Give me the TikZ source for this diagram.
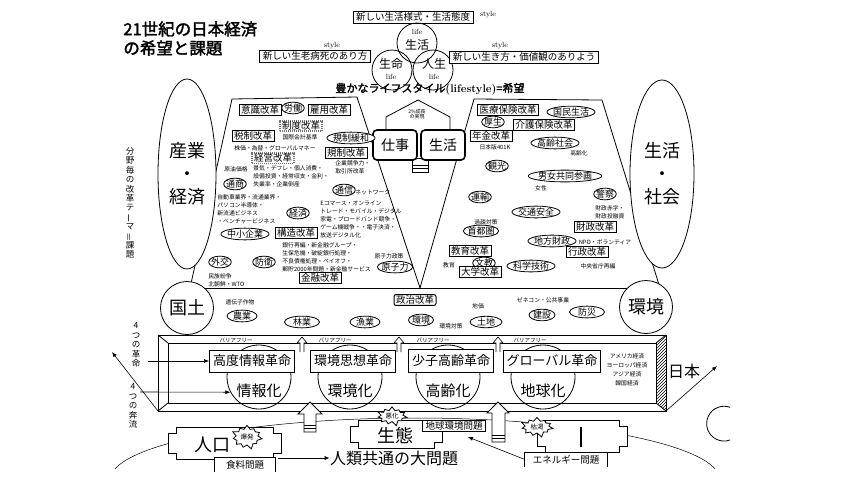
\documentclass[tikz,border=0pt]{standalone}
\usepackage{fontspec}
\newfontfamily\jp[AutoFakeBold=2]{Noto Sans CJK JP}
\usetikzlibrary{positioning, shapes.geometric, shapes.symbols, arrows.meta, patterns}
\newcommand{\fsz}[1]{\fontsize{#1}{#1}\selectfont}
\newcommand{\tabshape}[4]{%
  \draw[fill=white] (#1+8,#2) -- (#3-8,#2) -- (#3-8,#2+6) -- (#3,#2+6) -- (#3,#4-6)
    -- (#3-8,#4-6) -- (#3-8,#4) -- (#1+8,#4) -- (#1+8,#4-6) -- (#1,#4-6)
    -- (#1,#2+6) -- (#1+8,#2+6) -- cycle;}

\begin{document}
\begin{tikzpicture}[x=1pt, y=-1pt, font=\jp, line width=0.8pt,
  sbox/.style={draw, fill=white, inner xsep=3pt, inner ysep=1.5pt, font=\jp\fsz{9.5}},
  stylelbl/.style={inner sep=0pt, font=\rmfamily\fsz{7.5}},
  vennc/.style={draw, circle, minimum size=40pt, inner sep=0pt},
  venntxt/.style={inner sep=0pt, font=\jp\fsz{12}},
  bigell/.style={draw, ellipse, fill=white, inner sep=0pt, font=\jp\fontsize{18}{23}\selectfont, align=center},
  bigcirc/.style={draw, circle, fill=white, minimum size=53pt, inner sep=0pt, font=\jp\fsz{18}},
  kbox/.style={draw, fill=white, line width=1pt, inner xsep=2pt, inner ysep=1pt, font=\jp\fsz{9.5}},
  dotbox/.style={kbox, draw=black!55, densely dotted, line width=1.8pt},
  koval/.style={draw, ellipse, fill=white, inner xsep=-1pt, inner ysep=0pt, font=\jp\fsz{9}},
  smalltxt/.style={inner sep=0pt, font=\jp\fontsize{5.8}{8}\selectfont, align=left},
  workbox/.style={draw, fill=white, rounded corners=4pt, line width=1.6pt, minimum width=44pt, minimum height=30pt, font=\jp\fsz{14}},
  revbox/.style={draw, fill=white, line width=1pt, inner xsep=3.5pt, inner ysep=5pt, font=\jp\fsz{13}},
  kacirc/.style={draw, circle, minimum size=64pt, inner sep=0pt},
  katxt/.style={inner sep=0pt, font=\jp\fsz{15}},
  bfree/.style={inner sep=0pt, font=\jp\fsz{5.5}},
  tatetxt/.style={inner sep=0pt, align=center, font=\jp\fontsize{8.5}{9.4}\selectfont},
  burst/.style={draw, fill=white, starburst, starburst points=11, starburst point height=5pt, inner sep=1pt, font=\jp\fsz{6.5}},
  openbox/.style={inner sep=0pt, minimum height=14pt, font=\jp\fsz{9.5}},
  arr/.style={-{Latex[length=5pt, width=4pt]}, line width=0.6pt}
]
  \useasboundingbox[fill=white] (0,0) rectangle (844,483);

  % title
  \node[anchor=west, inner sep=0pt, font=\jp\bfseries\fsz{16.5}] (title1) at (123,29) {21世紀の日本経済};
  \node[anchor=west, inner sep=0pt, font=\jp\bfseries\fsz{16.5}] (title2) at (123,48) {の希望と課題};

  % big loop at the bottom
  \begin{scope}
    \clip (0,0) rectangle (844,468);
    \draw[line width=0.5pt] (415,480) ellipse [x radius=305, y radius=62];
  \end{scope}

  % the two trapezoids
  \draw (190,288) -- (232,99) -- (357,97) -- (420,288);
  \draw (420,288) -- (474,99) -- (602,100) -- (660,288);
  \draw (190,288) -- (660,288);

  % house arrow
  \draw[fill=white] (412,158) rectangle (428,172);
  \draw (412,165) -- (428,165) (412,168) -- (428,168);
  \draw[fill=white] (386,132) -- (386,117) -- (418,100) -- (450,117) -- (450,132);
  \node[inner sep=0pt, font=\jp\fsz{5}, align=center] (seichou) at (417,114) {2\%成長\\の実現};
  \node[workbox] (shigoto) at (395,145) {仕事};
  \node[workbox] (seikatsu) at (443,145) {生活};

  % top: life
  \node[sbox] (lifestyle) at (413,17) {新しい生活様式・生活態度};
  \node[stylelbl] (st0) at (488,15) {style};
  \node[vennc] (v1) at (417,43) {};
  \node[vennc] (v2) at (392,70) {};
  \node[vennc] (v3) at (433,70) {};
  \node[stylelbl] (vl1) at (417,32) {life};
  \node[venntxt] (vseikatsu) at (417,45) {生活};
  \node[venntxt] (vseimei) at (391,64) {生命};
  \node[stylelbl] (vl2) at (391,77) {life};
  \node[venntxt] (vjinsei) at (434,64) {人生};
  \node[stylelbl] (vl3) at (434,77) {life};
  \node[sbox] (rousi) at (315,56) {新しい生老病死のあり方};
  \node[stylelbl] (st1) at (332,46) {style};
  \node[sbox] (ikikata) at (524,57) {新しい生き方・価値観のありよう};
  \node[stylelbl] (st2) at (500,46) {style};
  \node[inner sep=0pt, font=\jp\bfseries\fsz{11}] (hope) at (430,89) {豊かなライフスタイル{\rmfamily\bfseries(lifestyle)}=希望};

  % left and right fields
  \node[bigell, minimum width=58pt, minimum height=190pt] (sangyo) at (187,174) {産業\\・\\経済};
  \node[bigell, minimum width=64pt, minimum height=188pt] (shakai) at (662,174) {生活\\・\\社会};
  \node[tatetxt] (bunya) at (130,203) {分\\野\\毎\\の\\改\\革\\テ\\\rotatebox[origin=c]{90}{ー}\\マ\\\rotatebox[origin=c]{90}{＝}\\課\\題};

  % left trapezoid
  \node[kbox] (ishiki) at (260,110) {意識改革};
  \node[koval] (roudou) at (293,108) {労働};
  \node[kbox] (koyou) at (329,110) {雇用改革};
  \node[dotbox] (seido) at (301,126) {制度改革};
  \node[kbox] (zeisei) at (253,136) {税制改革};
  \node[smalltxt] (kaikei) at (300,137) {国際会計基準};
  \node[koval] (kanwa) at (351,138) {規制緩和};
  \node[smalltxt] (kabuka) at (275,148) {株価・為替・グローバルマネー};
  \node[kbox] (kisei) at (346,153) {規制改革};
  \node[dotbox] (keiei) at (273,158) {経営改革};
  \node[smalltxt, anchor=west] (kyousou) at (335,167) {企業競争力・\\取引所改革};
  \node[smalltxt] (genyu) at (236,169) {原油価格};
  \node[smalltxt, anchor=west] (keiki) at (253,176.5) {景気・デフレ・個人消費・\\設備投資・経常収支・金利・\\失業率・企業倒産};
  \node[koval] (tsusho) at (235,184) {通商};
  \node[koval] (tsushin) at (344,190) {通信};
  \node[smalltxt, anchor=west] (network) at (355,192) {ネットワーク};
  \node[smalltxt, anchor=west] (jidousha) at (217,209.5) {自動車業界・流通業界・\\パソコン半導体・\\新流通ビジネス\\・ベンチャービジネス};
  \node[koval] (keizai) at (298,213) {経済};
  \node[smalltxt, anchor=west] (ecom) at (320,219) {Eコマース・オンライン\\トレード・モバイル・デジタル\\家電・ブロードバンド競争・\\ゲーム機戦争・・電子決済・\\放送デジタル化};
  \node[koval] (chusho) at (245,234) {中小企業};
  \node[kbox] (kouzou) at (296,233) {構造改革};
  \node[smalltxt, anchor=west] (ginkou) at (282,257) {銀行再編・新金融グループ・\\生保危機・破綻銀行処理・\\不良債権処理・ペイオフ・\\郵貯2000年問題・新金融サービス};
  \node[koval] (gaikou) at (220,262) {外交};
  \node[koval] (bouei) at (264,262) {防衛};
  \node[smalltxt] (genshiseisaku) at (389,256) {原子力政策};
  \node[koval] (genshiryoku) at (395,267) {原子力};
  \node[kbox] (kinyu) at (320,278) {金融改革};
  \node[smalltxt, anchor=west] (minzoku) at (208,280) {民族紛争\\北朝鮮・WTO};

  % right trapezoid
  \node[kbox] (iryou) at (508,110) {医療保険改革};
  \node[koval] (kokumin) at (571,112) {国民生活};
  \node[koval] (kousei) at (493,122) {厚生};
  \node[kbox] (kaigo) at (544,125) {介護保険改革};
  \node[kbox] (nenkin) at (491,136) {年金改革};
  \node[smalltxt] (k401) at (495,147) {日本版401K};
  \node[koval] (koureishakai) at (555,143) {高齢社会};
  \node[smalltxt] (koureika) at (579,153) {高齢化};
  \node[koval] (kankou) at (497,166) {観光};
  \node[koval] (danjo) at (565,176) {男女共同参画};
  \node[smalltxt] (josei) at (541,188) {女性};
  \node[koval] (keisatsu) at (605,194) {警察};
  \node[koval] (unyu) at (480,197) {運輸};
  \node[koval] (koutsu) at (536,212) {交通安全};
  \node[smalltxt, anchor=west] (zaiseiaka) at (595,212.5) {財政赤字・\\財政投融資};
  \node[smalltxt] (kaso) at (486,222) {過疎対策};
  \node[koval] (shuto) at (481,231) {首都圏};
  \node[kbox] (zaisei) at (595,227) {財政改革};
  \node[koval] (chihou) at (552,241) {地方財政};
  \node[smalltxt] (npo) at (605,242) {NPO・ボランティア};
  \node[kbox] (gyousei) at (587,252) {行政改革};
  \node[kbox] (kyouiku) at (470,251) {教育改革};
  \node[smalltxt] (kyouikus) at (449,265) {教育};
  \node[koval] (bunkyou) at (484,263) {文教};
  \node[kbox] (daigaku) at (480,272) {大学改革};
  \node[koval] (kagaku) at (531,266) {科学技術};
  \node[smalltxt] (chuou) at (598,266) {中央省庁再編};

  % land band
  \node[bigcirc] (kokudo) at (187,308) {国土};
  \node[bigcirc] (kankyo) at (646,307) {環境};
  \node[smalltxt] (idenshi) at (240,302) {遺伝子作物};
  \node[koval, minimum width=30pt] (nougyou) at (242,316) {農業};
  \node[koval, minimum width=35pt] (ringyou) at (302,322) {林業};
  \node[koval, minimum width=30pt] (gyogyou) at (365,322) {漁業};
  \node[kbox, rounded corners=2pt] (seiji) at (415,300) {政治改革};
  \node[koval, minimum width=25pt] (kankyo2) at (421,320) {環境};
  \node[smalltxt] (kankyotaisaku) at (451,326) {環境対策};
  \node[smalltxt] (chika) at (478,306) {地価};
  \node[koval, minimum width=32pt] (tochi) at (486,322) {土地};
  \node[smalltxt] (zenekon) at (543,300) {ゼネコン・公共事業};
  \node[koval, minimum width=26pt] (kensetsu) at (542,315) {建設};
  \node[koval, minimum width=35pt] (bousai) at (587,312) {防災};

  % the slab
  \draw (158,335) rectangle (666,411);
  \draw (168,343) rectangle (656,403);
  \draw (158,335) -- (168,343) (158,411) -- (168,403) (666,335) -- (656,343) (666,411) -- (656,403);
  \fill[pattern=north east lines] (656,343) -- (666,335) -- (666,411) -- (656,403) -- cycle;
  \foreach \x in {302,399,498}
    \draw[fill=white, line width=0.6pt] (\x-2,352) -- (\x-2,343) -- (\x-5,343) -- (\x,337) -- (\x+5,343) -- (\x+2,343) -- (\x+2,352);
  \node[kacirc] (jyoho) at (259,377) {};
  \node[kacirc] (kankyoka) at (350,377) {};
  \node[kacirc] (koureika2) at (448,377) {};
  \node[kacirc] (chikyuka) at (543,377) {};
  \node[bfree] (bf1) at (236,340) {バリアフリー};
  \node[bfree] (bf2) at (335,340) {バリアフリー};
  \node[bfree] (bf3) at (433,340) {バリアフリー};
  \node[bfree] (bf4) at (530,340) {バリアフリー};
  \node[revbox] (r1) at (252,361) {高度情報革命};
  \node[revbox] (r2) at (353,361) {環境思想革命};
  \node[revbox] (r3) at (451,361) {少子高齢革命};
  \node[revbox] (r4) at (552,361) {グローバル革命};
  \node[katxt] (jyohot) at (259,391) {情報化};
  \node[katxt] (kankyokat) at (350,391) {環境化};
  \node[katxt] (koureikat) at (448,391) {高齢化};
  \node[katxt] (chikyukat) at (543,391) {地球化};
  \node[smalltxt, align=center, font=\jp\fontsize{5.8}{9}\selectfont] (world) at (627,369.5) {アメリカ経済\\ヨーロッパ経済\\アジア経済\\韓国経済};

  % Japan
  \node[inner sep=0pt, font=\jp\fsz{16}] (nihon) at (684,371) {日本};
  \coordinate (slabbr) at (666,411);
  \coordinate (nihonarr) at (717,366);
  \draw[arr] (slabbr) -- (nihonarr);

  % four revolutions, four streams
  \node[tatetxt] (kakumei) at (136,345) {4\\つ\\の\\革\\命};
  \node[tatetxt] (honryu) at (133,406) {4\\つ\\の\\奔\\流};
  \coordinate (kakumeiarr) at (148,361);
  \coordinate (honryuarr) at (140,392);
  \draw[arr] (kakumeiarr) -- (r1.west);
  \draw[arr] (honryuarr) -- (jyoho.208);
  \coordinate (slabbl) at (158,411);
  \coordinate (diagtip) at (112,352);
  \draw[arr] (slabbl) -- (diagtip);

  % big problems
  \draw[fill=white] (304,432) -- (304,414) -- (298,414) -- (310,402) -- (322,414) -- (316,414) -- (316,432) -- cycle;
  \draw (304,425) -- (316,425) (304,428) -- (316,428);
  \draw[fill=white] (492,442) -- (492,413) -- (487,413) -- (498,402) -- (509,413) -- (505,413) -- (505,442) -- cycle;
  \draw (492,435) -- (505,435) (492,438) -- (505,438);

  \tabshape{168}{427}{281}{459}
  \node[inner sep=0pt, font=\jp\fsz{18}] (jinkou) at (212,445) {人口};
  \node[burst, minimum width=32pt, minimum height=26pt] (bakuhatsu) at (247,437) {爆発};
  \node[openbox, minimum width=60pt, anchor=north] (shokuryou) at (245,457) {食料問題};
  \draw[fill=white] (shokuryou.south west) -- (shokuryou.north west) -- (shokuryou.north east) -- (shokuryou.south east);
  \node[openbox, minimum width=60pt, anchor=north] at (245,457) {食料問題};

  \tabshape{350}{420}{442}{448}
  \node[inner sep=0pt, font=\jp\fsz{18}] (seitai) at (395,436) {生態};
  \node[burst, minimum width=32pt, minimum height=16pt] (akka) at (392,416) {悪化};
  \node[draw, fill=white, inner xsep=3pt, inner ysep=1pt, font=\jp\fsz{9.5}] (chikyu) at (454,426) {地球環境問題};

  \tabshape{537}{420}{627}{452}
  \draw[line width=1.5pt] (581,427) -- (581,447);
  \node[burst, minimum width=34pt, minimum height=22pt] (koketsu) at (537,427) {枯渇};
  \node[openbox, minimum width=82pt, anchor=north] (energy) at (566,452) {エネルギー問題};
  \draw[fill=white] (energy.south west) -- (energy.north west) -- (energy.north east) -- (energy.south east);
  \node[openbox, minimum width=82pt, anchor=north] at (566,452) {エネルギー問題};

  \node[inner sep=0pt, font=\jp\fsz{16}] (daimondai) at (394,458) {人類共通の大問題};
  \coordinate (jinkouse) at (278,458);
  \coordinate (chikyuarr) at (468,437);
  \draw[arr] (jinkouse) -- (daimondai.west);
  \draw[arr] (energy.west) -- (chikyuarr);

  % cut circle at the right
  \draw (730,440) arc[start angle=70, end angle=290, radius=17.4];
\end{tikzpicture}
\end{document}
